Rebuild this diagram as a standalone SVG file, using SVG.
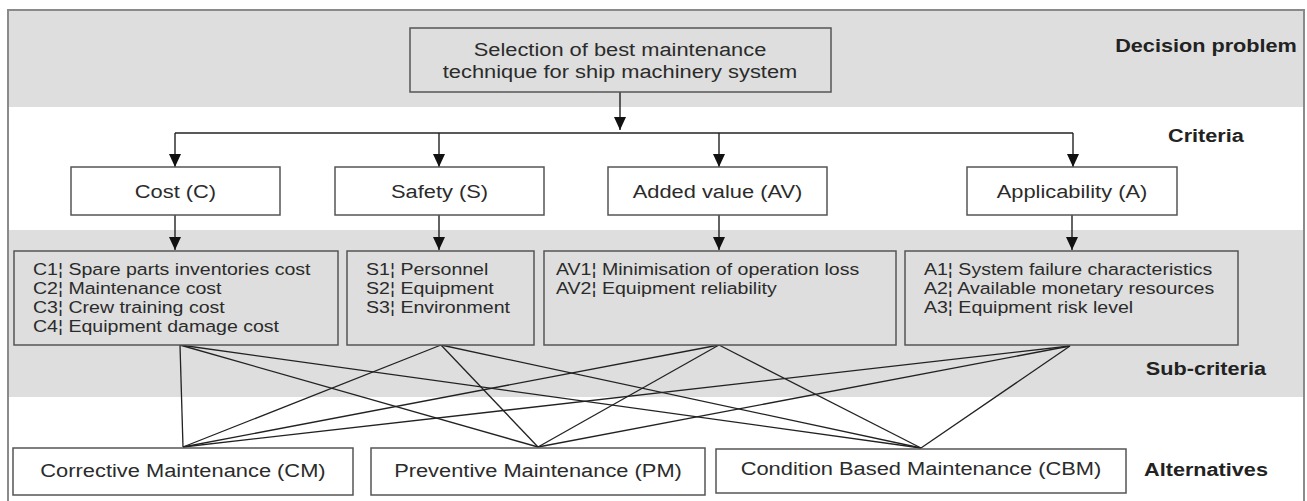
<svg xmlns="http://www.w3.org/2000/svg" width="1307" height="501" viewBox="0 0 1307 501">
<style>
  .band { fill: #dddedd; stroke: none; }
  .frame { fill: none; stroke: #8a8a8a; stroke-width: 2; }
  .gbox { fill: #dddedd; stroke: #555; stroke-width: 1.5; }
  .wbox { fill: #ffffff; stroke: #555; stroke-width: 1.5; }
  .conn { fill: none; stroke: #222; stroke-width: 1.4; }
  .link { fill: none; stroke: #222; stroke-width: 1.3; }
  text { font-family: "Liberation Sans", Arial, sans-serif; fill: #2b2b2b; }
  .mid { text-anchor: middle; transform-box: fill-box; transform-origin: 50% 50%; transform: scaleX(1.15); }
  .st { text-anchor: start; transform-box: fill-box; transform-origin: 0% 50%; transform: scaleX(1.15); }
  .big { font-size: 19px; }
  .sub { font-size: 17px; }
  .lab { font-size: 19px; font-weight: bold; fill: #222; text-anchor: middle; transform-box: fill-box; transform-origin: 50% 50%; transform: scaleX(1.14); }
</style>
<defs>
  <marker id="arr" markerUnits="userSpaceOnUse" markerWidth="13" markerHeight="12" viewBox="0 0 13 12" refX="13" refY="6" orient="auto">
    <path d="M0,0 L13,6 L0,12 Z" fill="#111"/>
  </marker>
</defs>

<rect width="1307" height="501" fill="#ffffff"/>
<g id="bands">
  <rect class="band" x="9" y="11" width="1295" height="96"/>
  <rect class="band" x="9" y="230" width="1295" height="167"/>
  <path class="frame" d="M8,501 V10 H1304 V501"/>
</g>

<g id="level-labels">
  <text class="lab" x="1206" y="52">Decision problem</text>
  <text class="lab" x="1206" y="142">Criteria</text>
  <text class="lab" x="1206" y="375">Sub-criteria</text>
  <text class="lab" x="1206" y="476">Alternatives</text>
</g>

<g id="connectors">
  <line class="conn" x1="620" y1="92" x2="620" y2="130" marker-end="url(#arr)"/>
  <path class="conn" d="M175,133 H1073"/>
  <line class="conn" x1="175" y1="133" x2="175" y2="167" marker-end="url(#arr)"/>
  <line class="conn" x1="439" y1="133" x2="439" y2="167" marker-end="url(#arr)"/>
  <line class="conn" x1="719" y1="133" x2="719" y2="167" marker-end="url(#arr)"/>
  <line class="conn" x1="1073" y1="133" x2="1073" y2="167" marker-end="url(#arr)"/>
  <line class="conn" x1="175" y1="215" x2="175" y2="250" marker-end="url(#arr)"/>
  <line class="conn" x1="439" y1="215" x2="439" y2="250" marker-end="url(#arr)"/>
  <line class="conn" x1="719" y1="215" x2="719" y2="250" marker-end="url(#arr)"/>
  <line class="conn" x1="1072" y1="215" x2="1072" y2="250" marker-end="url(#arr)"/>
  <!-- sub-criteria to alternatives -->
  <line class="link" x1="180" y1="345" x2="183" y2="447"/>
  <line class="link" x1="180" y1="345" x2="538" y2="447"/>
  <line class="link" x1="180" y1="345" x2="921" y2="448"/>
  <line class="link" x1="441" y1="345" x2="183" y2="447"/>
  <line class="link" x1="441" y1="345" x2="538" y2="447"/>
  <line class="link" x1="441" y1="345" x2="921" y2="448"/>
  <line class="link" x1="719" y1="345" x2="183" y2="447"/>
  <line class="link" x1="719" y1="345" x2="538" y2="447"/>
  <line class="link" x1="719" y1="345" x2="921" y2="448"/>
  <line class="link" x1="1070" y1="346" x2="183" y2="447"/>
  <line class="link" x1="1070" y1="346" x2="538" y2="447"/>
  <line class="link" x1="1070" y1="346" x2="921" y2="448"/>
</g>

<g id="goal">
  <rect class="gbox" x="410" y="28" width="421" height="64"/>
  <text class="big mid" x="620" y="56">Selection of best maintenance</text>
  <text class="big mid" x="620" y="78">technique for ship machinery system</text>
</g>

<g id="crit-cost">
  <rect class="wbox" x="71" y="167" width="209" height="48"/>
  <text class="big mid" x="175.5" y="198">Cost (C)</text>
</g>
<g id="crit-safety">
  <rect class="wbox" x="335" y="167" width="209" height="48"/>
  <text class="big mid" x="439.5" y="198">Safety (S)</text>
</g>
<g id="crit-av">
  <rect class="wbox" x="608" y="167" width="219" height="48"/>
  <text class="big mid" x="717.5" y="198">Added value (AV)</text>
</g>
<g id="crit-app">
  <rect class="wbox" x="967" y="167" width="210" height="48"/>
  <text class="big mid" x="1072" y="198">Applicability (A)</text>
</g>

<g id="sub-cost">
  <rect class="gbox" x="14" y="251" width="324" height="94"/>
  <text class="sub st" x="33" y="275">C1¦ Spare parts inventories cost</text>
  <text class="sub st" x="33" y="294">C2¦ Maintenance cost</text>
  <text class="sub st" x="33" y="313">C3¦ Crew training cost</text>
  <text class="sub st" x="33" y="332">C4¦ Equipment damage cost</text>
</g>
<g id="sub-safety">
  <rect class="gbox" x="347" y="251" width="187" height="94"/>
  <text class="sub st" x="366" y="275">S1¦ Personnel</text>
  <text class="sub st" x="366" y="294">S2¦ Equipment</text>
  <text class="sub st" x="366" y="313">S3¦ Environment</text>
</g>
<g id="sub-av">
  <rect class="gbox" x="544" y="251" width="352" height="94"/>
  <text class="sub st" x="556" y="275">AV1¦ Minimisation of operation loss</text>
  <text class="sub st" x="556" y="294">AV2¦ Equipment reliability</text>
</g>
<g id="sub-app">
  <rect class="gbox" x="905" y="251" width="333" height="94"/>
  <text class="sub st" x="924" y="275">A1¦ System failure characteristics</text>
  <text class="sub st" x="924" y="294">A2¦ Available monetary resources</text>
  <text class="sub st" x="924" y="313">A3¦ Equipment risk level</text>
</g>

<g id="alt-cm">
  <rect class="wbox" x="13" y="448" width="340" height="47"/>
  <text class="big mid" x="183" y="477">Corrective Maintenance (CM)</text>
</g>
<g id="alt-pm">
  <rect class="wbox" x="371" y="448" width="334" height="47"/>
  <text class="big mid" x="538" y="477">Preventive Maintenance (PM)</text>
</g>
<g id="alt-cbm">
  <rect class="wbox" x="716" y="449" width="410" height="44"/>
  <text class="big mid" x="921" y="475">Condition Based Maintenance (CBM)</text>
</g>
</svg>
